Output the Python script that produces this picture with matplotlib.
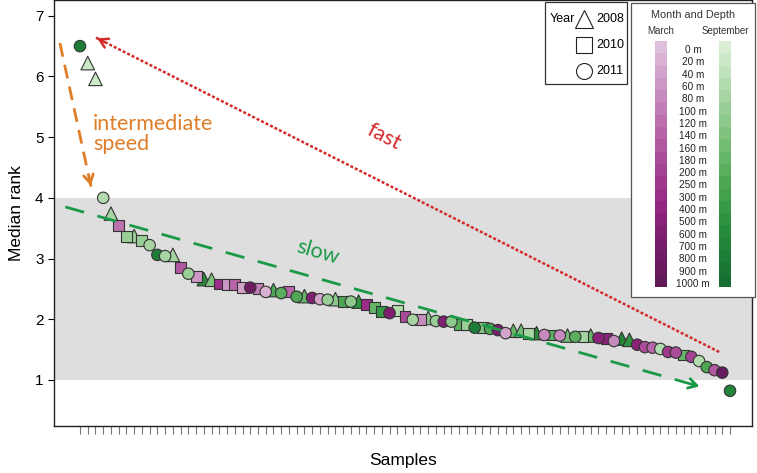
import matplotlib
matplotlib.use("Agg")
from matplotlib import pyplot as plt
from matplotlib.patches import Rectangle
from matplotlib.lines import Line2D

# Median rank of each sample, read left to right
median_rank = [6.50, 6.22, 5.96, 4.00, 3.74, 3.54, 3.36, 3.37, 3.29, 3.22,
               3.06, 3.04, 3.06, 2.85, 2.75, 2.71, 2.66, 2.65, 2.58, 2.57,
               2.57, 2.52, 2.52, 2.50, 2.45, 2.48, 2.43, 2.45, 2.37, 2.38,
               2.35, 2.33, 2.32, 2.33, 2.29, 2.29, 2.29, 2.24, 2.19, 2.12,
               2.10, 2.14, 2.05, 1.99, 1.99, 2.02, 1.97, 1.96, 1.96, 1.92,
               1.91, 1.86, 1.86, 1.84, 1.82, 1.77, 1.81, 1.81, 1.77, 1.77,
               1.74, 1.74, 1.73, 1.73, 1.71, 1.71, 1.73, 1.69, 1.68, 1.64,
               1.68, 1.66, 1.58, 1.54, 1.53, 1.51, 1.46, 1.45, 1.41, 1.38,
               1.31, 1.21, 1.16, 1.12, 0.82]

# Sampling year of each sample
sample_year = [2011, 2008, 2008, 2011, 2008, 2010, 2010, 2008, 2010, 2011,
               2011, 2011, 2008, 2010, 2011, 2010, 2008, 2008, 2010, 2010,
               2010, 2010, 2011, 2010, 2011, 2008, 2011, 2010, 2011, 2008,
               2011, 2011, 2011, 2008, 2010, 2011, 2008, 2010, 2010, 2010,
               2011, 2010, 2010, 2011, 2010, 2008, 2011, 2011, 2011, 2010,
               2010, 2011, 2010, 2011, 2011, 2011, 2008, 2008, 2010, 2008,
               2011, 2010, 2011, 2008, 2011, 2010, 2008, 2011, 2010, 2011,
               2008, 2008, 2011, 2011, 2011, 2011, 2011, 2011, 2010, 2011,
               2011, 2011, 2011, 2011, 2011]

# Month of each sample (M = March, S = September)
sample_month = list("SSSSSMSSSS"
                    "SSSMSMSSMM"
                    "MMMMMSSMSS"
                    "MMSSSSSMSS"
                    "MSMSMSSMSS"
                    "SSSSMMSSSS"
                    "MSMSSSSMMM"
                    "SSMMMSMMSM"
                    "SSMMS")

# Depth class of each sample (index into depth_labels)
sample_depth = [17, 1, 1, 3, 4, 6, 5, 5, 5, 4,
                17, 4, 4, 8, 5, 3, 15, 7, 12, 3,
                7, 2, 17, 5, 1, 11, 10, 7, 11, 9,
                15, 2, 5, 6, 11, 6, 14, 12, 9, 13,
                15, 3, 9, 4, 4, 6, 5, 15, 6, 10,
                5, 17, 7, 11, 16, 2, 9, 8, 4, 15,
                4, 10, 4, 8, 10, 4, 9, 14, 14, 4,
                16, 14, 14, 9, 7, 3, 11, 9, 9, 10,
                3, 11, 8, 18, 16]

depth_labels = ["0 m", "20 m", "40 m", "60 m", "80 m", "100 m", "120 m", "140 m",
                "160 m", "180 m", "200 m", "250 m", "300 m", "400 m", "500 m",
                "600 m", "700 m", "800 m", "900 m", "1000 m"]

march_colors = ["#dfc0dc", "#d8b1d3", "#d2a4cc", "#cc97c5", "#c78abd", "#c27db6",
                "#bc70ae", "#b764a8", "#b058a0", "#aa4c99", "#a44293", "#a0388d",
                "#9b2e88", "#932681", "#8a2279", "#801f71", "#781d6b", "#6f1c65",
                "#681b5f", "#601a58"]
sept_colors = ["#d9edd5", "#cde8c9", "#c0e2bd", "#b3dbb0", "#a6d5a3", "#99cf97",
               "#8cc98b", "#7fc37f", "#72bc73", "#66b568", "#5aae5e", "#4ea755",
               "#43a04d", "#389946", "#2f9240", "#278b3c", "#218438", "#1d7d36",
               "#1a7634", "#186f32"]

year_markers = {2008: ("^", 95), 2010: ("s", 62), 2011: ("o", 68)}

# Annotation arrows: (start, end) in data coordinates
arrow_fast = [(83.6, 1.46), (2.9, 6.65)]
arrow_mid = [(-1.6, 6.55), (2.4, 4.2)]
arrow_slow = [(-0.9, 3.85), (81.4, 0.88)]

W, H = 757, 473
fig = plt.figure(figsize=(W / 100, H / 100), dpi=100)
ax = fig.add_axes([54 / W, 1 - 426 / H, (752 - 54) / W, 426 / H])


def fx(px):
    return px / W


def fy(py):
    return 1 - py / H


samples = list(range(1, len(median_rank) + 1))
ax.axhspan(1, 4, color="#dedede", zorder=0, lw=0)

for yr, (mk, size) in year_markers.items():
    xs = [s for s, y in zip(samples, sample_year) if y == yr]
    ys = [r for r, y in zip(median_rank, sample_year) if y == yr]
    cs = [(march_colors if m == "M" else sept_colors)[d]
          for m, d, y in zip(sample_month, sample_depth, sample_year) if y == yr]
    ax.scatter(xs, ys, c=cs, marker=mk, s=size, edgecolors="#333333",
               linewidths=0.8, zorder=3)


def dashed_arrow(pts, color, ls, lw):
    (x0, y0), (x1, y1) = pts
    ax.plot([x0, x1], [y0, y1], color=color, ls=ls, lw=lw, zorder=4)
    ax.annotate("", xy=(x1, y1), xytext=(x1 - (x1 - x0) * 0.02, y1 - (y1 - y0) * 0.02),
                arrowprops=dict(arrowstyle="->,head_length=0.6,head_width=0.35",
                                color=color, lw=lw), zorder=4)


dashed_arrow(arrow_fast, "#d42a2a", (0, (1.2, 0.8)), 1.8)
dashed_arrow(arrow_mid, "#e07d28", (0, (5, 3)), 2.0)
dashed_arrow(arrow_slow, "#1a9a46", (0, (7, 5)), 2.0)

ann_font = "Lato"
ax.text(2.7, 5.05, "intermediate\nspeed", color="#e07d28", fontsize=15.5,
        family=ann_font, ha="left", va="center", linespacing=1.0)
ax.text(40.3, 5.0, "fast", color="#d42a2a", fontsize=15.5, family=ann_font,
        rotation=-27, ha="center", va="center")
ax.text(31.7, 3.1, "slow", color="#1a9a46", fontsize=15.5, family=ann_font,
        rotation=-16, ha="center", va="center")

ax.set_xlim(-2.36, 87.84)
ax.set_ylim(0.24, 7.26)
ax.set_xticks(samples)
ax.set_xticklabels([])
ax.set_yticks(range(1, 8))
ax.tick_params(axis="x", length=6, width=0.8, color="#777777", direction="out")
ax.tick_params(axis="y", length=4, width=0.8, labelsize=11)
for lab in ax.get_yticklabels():
    lab.set_family("Liberation Sans")
for sp in ax.spines.values():
    sp.set_color("#222222")
    sp.set_linewidth(1.0)

ax.set_xlabel("Samples", fontsize=12.5, family="Liberation Sans", labelpad=10)
ax.set_ylabel("Median rank", fontsize=12.5, family="Liberation Sans", labelpad=8)

# Year legend
fig.add_artist(Rectangle((fx(545), fy(84)), fx(627) - fx(545), fy(2) - fy(84),
                         transform=fig.transFigure, fill=True, fc="white",
                         ec="#333333", lw=0.9, zorder=5))
fig.text(fx(550), fy(19), "Year", fontsize=9, family="Liberation Sans",
         va="center", ha="left", zorder=6)
legend_rows = [(2008, "^", 13), (2010, "s", 11), (2011, "o", 11.5)]
for i, (yr, mk, ms) in enumerate(legend_rows):
    py = 19 + i * 26
    fig.add_artist(Line2D([fx(584)], [fy(py)], marker=mk, ms=ms, mfc="white",
                          mec="#222222", mew=0.8, transform=fig.transFigure,
                          zorder=6))
    fig.text(fx(596), fy(py), str(yr), fontsize=9, family="Liberation Sans",
             va="center", ha="left", zorder=6)

# Month and depth legend
fig.add_artist(Rectangle((fx(631), fy(297)), fx(755) - fx(631), fy(3) - fy(297),
                         transform=fig.transFigure, fc="white", ec="#555555",
                         lw=0.9, zorder=5))
fig.text(fx(693), fy(15), "Month and Depth", fontsize=7.8, color="#333333",
         family="Liberation Sans", ha="center", va="center", zorder=6)
fig.text(fx(661), fy(31), "March", fontsize=7, color="#333333",
         family="Liberation Sans", ha="center", va="center", zorder=6)
fig.text(fx(725), fy(31), "September", fontsize=7, color="#333333",
         family="Liberation Sans", ha="center", va="center", zorder=6)
cell_h = (287 - 41) / len(depth_labels)
for i, lab in enumerate(depth_labels):
    top = 41 + i * cell_h
    for x0, cols in ((655, march_colors), (719, sept_colors)):
        fig.add_artist(Rectangle((fx(x0), fy(top + cell_h)), fx(12), cell_h / H,
                                 transform=fig.transFigure, fc=cols[i], ec="none",
                                 zorder=6))
    fig.text(fx(693), fy(top + cell_h / 2 + 3), lab, fontsize=7.2, color="#222222",
             family="Liberation Sans", ha="center", va="center", zorder=6)

fig.savefig("out.png", dpi=100)
